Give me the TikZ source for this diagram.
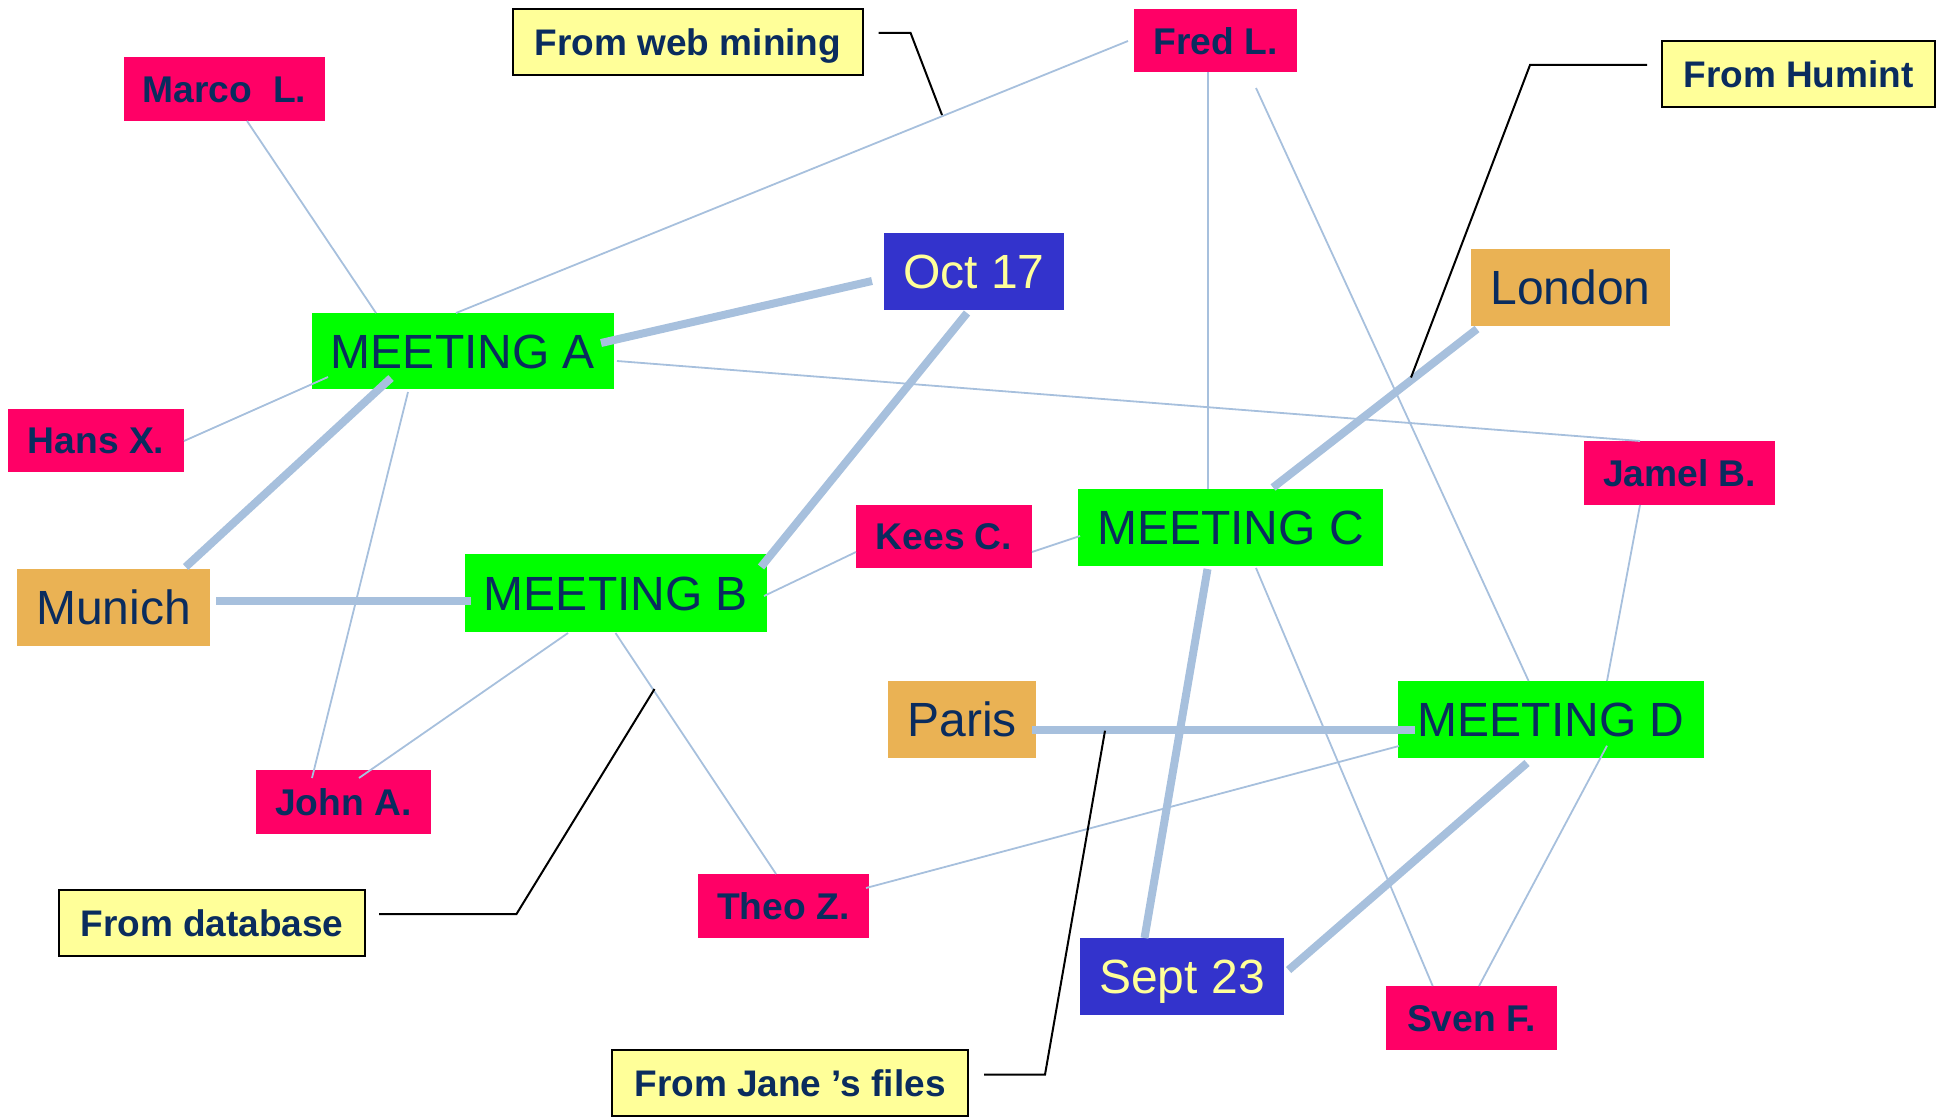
\documentclass[tikz,border=0pt]{standalone}
\usepackage{fontspec}
\setmainfont{Liberation Sans}
\definecolor{navy}{RGB}{10,44,94}
\definecolor{pinkbox}{RGB}{255,0,102}
\definecolor{greenbox}{RGB}{0,255,0}
\definecolor{orangebox}{RGB}{234,178,84}
\definecolor{bluebox}{RGB}{51,51,204}
\definecolor{paleyellow}{RGB}{255,255,153}
\definecolor{linkblue}{RGB}{167,192,221}
\tikzset{
  box/.style={anchor=north west, inner sep=0pt, outer sep=0pt, align=center},
  person/.style={box, fill=pinkbox, text=navy, font=\fontsize{37.2}{40}\selectfont\bfseries, text height=26.6pt, text depth=0pt},
  meet/.style={box, fill=greenbox, text=navy, font=\fontsize{48}{50}\selectfont, text height=34.4pt, text depth=0pt},
  place/.style={box, fill=orangebox, text=navy, font=\fontsize{48}{50}\selectfont, text height=34.4pt, text depth=0pt},
  datebox/.style={box, fill=bluebox, text=paleyellow, font=\fontsize{48}{50}\selectfont, text height=34.4pt, text depth=0pt},
  note/.style={box, fill=paleyellow, draw=black, line width=2pt, text=navy, font=\fontsize{37}{40}\selectfont\bfseries, text height=26.5pt, text depth=0pt},
  thin/.style={draw=linkblue, line width=1.8pt},
  thick/.style={draw=linkblue, line width=8pt},
  callout/.style={draw=black, line width=2pt}
}
\begin{document}
\begin{tikzpicture}[x=1pt,y=-1pt]
\useasboundingbox (0,0) rectangle (1940,1118);
% nodes
\node[note, minimum width=350pt, minimum height=66pt] (web) at (513,9) {From web mining};
\node[person, minimum width=201pt, minimum height=64pt] (marco) at (124,57) {Marco\ \ L.};
\node[meet, minimum width=302pt, minimum height=76pt] (ma) at (312,313) {MEETING A};
\node[person, minimum width=176pt, minimum height=63pt] (hans) at (8,409) {Hans X.};
\node[datebox, minimum width=180pt, minimum height=77pt] (oct) at (884,233) {Oct 17};
\node[person, minimum width=163pt, minimum height=63.5pt] (fred) at (1134,9) {Fred L.};
\node[note, minimum width=273pt, minimum height=66pt] (humint) at (1662,41) {From Humint};
\node[place, minimum width=199pt, minimum height=77pt] (london) at (1471,249) {London};
\node[person, minimum width=191pt, minimum height=64pt] (jamel) at (1584,441) {Jamel B.};
\node[person, minimum width=176pt, minimum height=63pt] (kees) at (856,505) {Kees C.};
\node[meet, minimum width=305pt, minimum height=77pt] (mc) at (1078,489) {MEETING C};
\node[place, minimum width=193pt, minimum height=77pt] (munich) at (17,569) {Munich};
\node[meet, minimum width=302pt, minimum height=78pt] (mb) at (465,554) {MEETING B};
\node[person, minimum width=175pt, minimum height=64pt] (john) at (256,770) {John A.};
\node[note, minimum width=306pt, minimum height=66pt] (database) at (59,890) {From database};
\node[person, minimum width=170.5pt, minimum height=64pt] (theo) at (698,874) {Theo Z.};
\node[place, minimum width=148pt, minimum height=77pt] (paris) at (888,681) {Paris};
\node[meet, minimum width=306pt, minimum height=77pt] (md) at (1398,681) {MEETING D};
\node[datebox, minimum width=204pt, minimum height=77pt] (sept) at (1080,938) {Sept 23};
\node[person, minimum width=170.5pt, minimum height=64pt] (sven) at (1386,986) {Sven F.};
\node[note, minimum width=356pt, minimum height=66pt] (jane) at (612,1050) {From Jane ’s files};
% thin links
\draw[thin] ([shift={(123,64)}]marco.north west) -- ([shift={(64,0)}]ma.north west);
\draw[thin] ([shift={(144,0)}]ma.north west) -- ([shift={(-6,32)}]fred.north west);
\draw[thin] ([shift={(176,32)}]hans.north west) -- ([shift={(16,64)}]ma.north west);
\draw[thin] ([shift={(96,79)}]ma.north west) -- ([shift={(56,8)}]john.north west);
\draw[thin] ([shift={(305,48)}]ma.north west) -- ([shift={(56,0)}]jamel.north west);
\draw[thin] ([shift={(73.6,63.5)}]fred.north west) -- ([shift={(129.6,0)}]mc.north west);
\draw[thin] ([shift={(122,79)}]fred.north west) -- ([shift={(130.6,0)}]md.north west);
\draw[thin] ([shift={(56,64)}]jamel.north west) -- ([shift={(209,0)}]md.north west);
\draw[thin] ([shift={(176,47)}]kees.north west) -- ([shift={(2,47)}]mc.north west);
\draw[thin] ([shift={(299,42)}]mb.north west) -- ([shift={(0,47)}]kees.north west);
\draw[thin] ([shift={(103,79)}]mb.north west) -- ([shift={(103,8)}]john.north west);
\draw[thin] ([shift={(150.5,79)}]mb.north west) -- ([shift={(78,0)}]theo.north west);
\draw[thin] ([shift={(168,14)}]theo.north west) -- ([shift={(1,65)}]md.north west);
\draw[thin] ([shift={(178,79)}]mc.north west) -- ([shift={(46.7,0)}]sven.north west);
\draw[thin] ([shift={(209,64.7)}]md.north west) -- ([shift={(93,0)}]sven.north west);
% thick links
\draw[thick] ([shift={(289,30)}]ma.north west) -- ([shift={(-12,48)}]oct.north west);
\draw[thick] ([shift={(79,65)}]ma.north west) -- ([shift={(168.6,-2)}]munich.north west);
\draw[thick] ([shift={(199,32)}]munich.north west) -- ([shift={(6,47)}]mb.north west);
\draw[thick] ([shift={(83,80)}]oct.north west) -- ([shift={(296,13)}]mb.north west);
\draw[thick] ([shift={(6,80)}]london.north west) -- ([shift={(195,-1.5)}]mc.north west);
\draw[thick] ([shift={(129.5,80)}]mc.north west) -- ([shift={(64.5,0)}]sept.north west);
\draw[thick] ([shift={(144,48.6)}]paris.north west) -- ([shift={(17,48.6)}]md.north west);
\draw[thick] ([shift={(129,82)}]md.north west) -- ([shift={(208.6,32)}]sept.north west);
% callouts
\coordinate (webk) at (910.6,33);
\coordinate (webe) at (942,115);
\coordinate (humk) at (1530,65);
\coordinate (hume) at (1411,377.5);
\coordinate (datk) at (516.5,914);
\coordinate (date) at (654.5,689);
\coordinate (janek) at (1045,1074.6);
\coordinate (janee) at (1105,730.7);
\draw[callout] ([shift={(365.5,24)}]web.north west) -- (webk) -- (webe);
\draw[callout] ([shift={(-15,24)}]humint.north west) -- (humk) -- (hume);
\draw[callout] ([shift={(320,24)}]database.north west) -- (datk) -- (date);
\draw[callout] ([shift={(372,24.6)}]jane.north west) -- (janek) -- (janee);
\end{tikzpicture}
\end{document}
